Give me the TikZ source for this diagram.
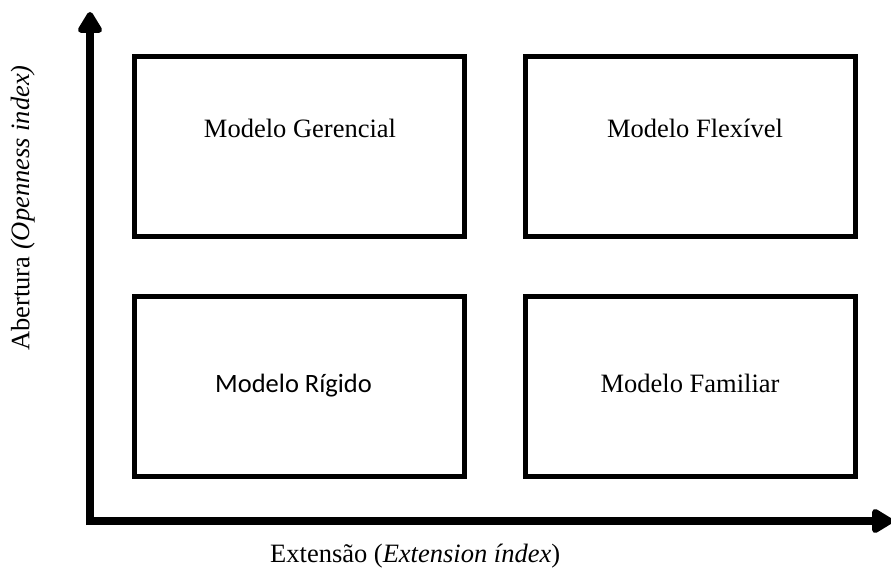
\documentclass[tikz,border=0pt]{standalone}
\usepackage{fontspec}
\setmainfont{Liberation Serif}
\newfontfamily\calfont{Carlito}
\usetikzlibrary{arrows.meta}
\begin{document}
\begin{tikzpicture}[x=1pt,y=-1pt,
  box/.style={draw=black,line width=5pt,minimum width=330pt,minimum height=180pt,inner sep=0pt},
  lbl/.style={font=\fontsize{26.5}{30}\selectfont,inner sep=0pt,anchor=base},
  axis/.style={line width=7.5pt,-{Triangle[width=27pt,length=24pt,round]}}]
\useasboundingbox (0,0) rectangle (891,572);
% boxes
\node[box] (tl) at (299.5,146.5) {};
\node[box] (tr) at (690,146.5) {};
\node[box] (bl) at (299.5,386) {};
\node[box] (br) at (690,386) {};
% box texts
\node[lbl] (tlt) at (300,138) {Modelo Gerencial};
\node[lbl] (trt) at (695,138) {Modelo Flexível};
\node[lbl,font=\fontsize{26.5}{30}\selectfont\calfont,anchor=base west] (blt) at (215,392) {Modelo Rígido};
\node[lbl] (brt) at (690,392) {Modelo Familiar};
% axes
\coordinate (o1) at (90,525);
\coordinate (ytip) at (90,12);
\coordinate (o2) at (86.5,521);
\coordinate (xtip) at (893,521);
\draw[axis] (o1) -- (ytip);
\draw[axis] (o2) -- (xtip);
% axis labels
\node[lbl,anchor=base west] (xl) at (270,562) {Extensão (\textit{Extension índex})};
\node[lbl,anchor=center,rotate=90] (yl) at (23,208) {Abertura \textit{(Openness index)}};
\end{tikzpicture}
\end{document}
